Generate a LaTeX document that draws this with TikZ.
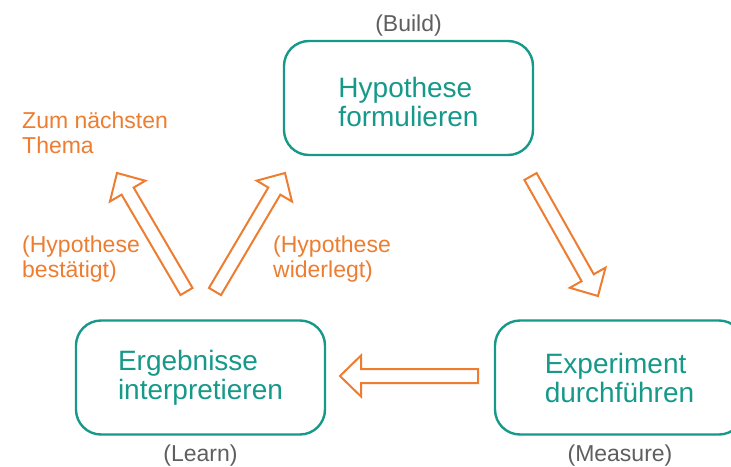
\documentclass[tikz,border=0pt]{standalone}
\usepackage{fontspec}
\setmainfont{Liberation Sans}
\usetikzlibrary{calc}
\definecolor{teal1}{HTML}{17998A}
\definecolor{orng}{HTML}{ED7D31}
\definecolor{gry}{HTML}{5F5F5F}
\tikzset{
 stepbox/.style={draw=teal1, line width=2.4pt, rounded corners=25pt, text=teal1, align=left,
   font=\fontsize{28}{29}\selectfont, inner sep=0pt, minimum width=249pt, minimum height=114pt},
 phase/.style={text=gry, font=\fontsize{23}{25}\selectfont, anchor=base, inner sep=0pt},
 olabel/.style={text=orng, font=\fontsize{23}{25}\selectfont, align=left, anchor=base west, inner sep=0pt},
 barrow/.style={draw=orng, line width=2pt, line join=miter, fill=white},
}
% #1 tail, #2 tip
\newcommand\blockarrow[2]{%
  \coordinate (hb) at ($(#2)!21pt!(#1)$);
  \draw[barrow] ($(#1)!7pt!90:(#2)$) -- ($(hb)!7pt!90:(#2)$) -- ($(hb)!20.5pt!90:(#2)$)
    -- (#2) -- ($(hb)!20.5pt!-90:(#2)$) -- ($(hb)!7pt!-90:(#2)$) -- ($(#1)!7pt!-90:(#2)$) -- cycle;
}
\begin{document}
\begin{tikzpicture}[x=1pt,y=-1pt]
\clip (0,0) rectangle (731,466);
\fill[white] (0,0) rectangle (731,466);
% boxes
\node[stepbox] (build) at (408.5,98) {\rule{0pt}{28.5pt}Hypothese\\formulieren};
\node[stepbox] (learn) at (200.5,377.5) {Ergebnisse\\interpretieren};
\node[stepbox] (measure) at (619.5,377.5) {Experiment\\durchführen};
% phase labels
\node[phase] (lbuild) at (408.5,31) {(Build)};
\node[phase] (llearn) at (200.5,461) {(Learn)};
\node[phase] (lmeasure) at (620,461) {(Measure)};
% orange labels (anchor = baseline of the last line)
\node[olabel] (next) at (22,153) {Zum nächsten\\Thema};
\node[olabel] (confirmed) at (22,277) {(Hypothese\\bestätigt)};
\node[olabel] (refuted) at (273,277) {(Hypothese\\widerlegt)};
% arrow end points
\coordinate (a1t) at (186.5,291.5); \coordinate (a1h) at (117,173);
\coordinate (a2t) at (215,291.5);   \coordinate (a2h) at (285,173);
\coordinate (a3t) at (530.5,176.5); \coordinate (a3h) at (598,296);
\coordinate (a4t) at (478,376);     \coordinate (a4h) at (340,376);
\blockarrow{a1t}{a1h}
\blockarrow{a2t}{a2h}
\blockarrow{a3t}{a3h}
\blockarrow{a4t}{a4h}
\end{tikzpicture}
\end{document}
